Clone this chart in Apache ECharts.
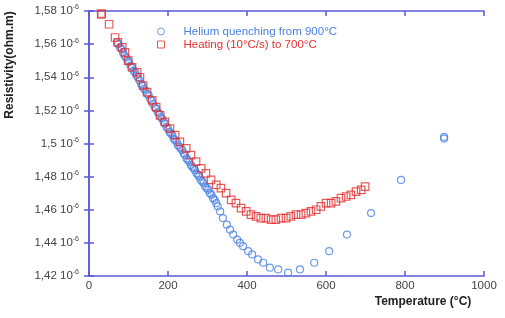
<!DOCTYPE html>
<html>
<head>
<meta charset="utf-8">
<script src="https://cdn.jsdelivr.net/npm/echarts@6/dist/echarts.min.js"></script>
<style>
  html, body { margin: 0; padding: 0; background: #fff; }
  #chart { width: 505px; height: 318px; }
</style>
</head>
<body>
<div id="chart"></div>
<script>
// [temperature °C, resistivity in 10^-6 ohm.m]
const heliumQuench = [
  [71,1.561],[74,1.560],[78,1.558],[82,1.557],[86,1.555],[90,1.553],[94,1.552],[98,1.550],
  [101,1.549],[105,1.547],[109,1.546],[113,1.544],[117,1.543],[120,1.541],[124,1.540],[128,1.538],
  [132,1.536],[135,1.535],[139,1.533],[143,1.532],[147,1.530],[151,1.529],[155,1.527],[158,1.526],
  [162,1.524],[166,1.522],[170,1.521],[174,1.519],[177,1.518],[181,1.516],[185,1.515],[189,1.513],
  [192,1.512],[196,1.510],[200,1.509],[204,1.507],[207,1.506],[211,1.505],[214,1.503],[218,1.502],
  [222,1.501],[225,1.499],[229,1.498],[232,1.497],[236,1.496],[240,1.494],[243,1.493],[247,1.491],
  [250,1.490],[254,1.489],[258,1.487],[261,1.486],[265,1.485],[268,1.484],[272,1.482],[276,1.481],
  [279,1.480],[283,1.478],[287,1.477],[290,1.476],[294,1.474],[298,1.473],[302,1.472],[306,1.470],
  [310,1.469],[314,1.467],[318,1.466],[322,1.464],[326,1.462],[332,1.459],[339,1.455],[349,1.451],
  [357,1.448],[365,1.445],[375,1.442],[382,1.440],[390,1.438],[403,1.435],[413,1.433],[428,1.430],
  [441,1.428],[458,1.425],[479,1.424],[504,1.422],[534,1.424],[570,1.428],[608,1.435],[653,1.445],
  [714,1.458],[790,1.478],[899,1.503],[899,1.504]
];
const heating = [
  [31,1.578],[32,1.5785],[51,1.572],[66,1.564],[73,1.561],[84,1.558],[91,1.555],[99,1.550],
  [109,1.546],[122,1.543],[129,1.540],[137,1.535],[147,1.531],[160,1.526],[170,1.522],[180,1.517],
  [192,1.513],[205,1.509],[218,1.505],[230,1.501],[246,1.497],[258,1.493],[271,1.489],[284,1.485],
  [296,1.482],[309,1.478],[322,1.475],[334,1.473],[347,1.470],[360,1.466],[372,1.464],[385,1.461],
  [398,1.459],[410,1.457],[423,1.456],[435,1.455],[448,1.455],[461,1.454],[473,1.454],[486,1.455],
  [499,1.455],[511,1.456],[524,1.457],[537,1.457],[549,1.458],[562,1.459],[575,1.460],[587,1.462],
  [600,1.464],[613,1.464],[625,1.465],[638,1.467],[651,1.468],[663,1.469],[676,1.471],[689,1.472],
  [699,1.474]
];
const seriesNames = ['Helium quenching from 900°C', 'Heating (10°C/s) to 700°C'];
const xMin = 0, xMax = 1000, xStep = 200;
const yMin = 1.42, yMax = 1.58, yStep = 0.02;
const yExponent = '-6';
const xTitle = 'Temperature (°C)';
const yTitle = 'Resistivity(ohm.m)';

const blue = '#4a82e6';
const red = '#e2312f';
const axisColor = '#5a5ad8';
const font = '"Liberation Sans", Arial, sans-serif';

const chart = echarts.init(document.getElementById('chart'));

const baseAxis = {
  axisLine: { show: true, lineStyle: { color: axisColor, width: 1.5 } },
  axisTick: { show: true, inside: true, length: 5, lineStyle: { color: axisColor, width: 1.5 } },
  splitLine: { show: false }
};

const option = {
  animation: false,
  backgroundColor: '#fff',
  textStyle: { fontFamily: font },
  grid: { left: 89, right: 21, top: 11, bottom: 42, containLabel: false },
  legend: {
    orient: 'vertical',
    left: 157,
    top: 25,
    padding: 0,
    itemGap: 0,
    itemWidth: 7,
    itemHeight: 7,
    data: [
      { name: seriesNames[0], textStyle: { color: blue } },
      { name: seriesNames[1], textStyle: { color: red } }
    ],
    itemStyle: { borderWidth: 1 },
    textStyle: { fontSize: 11.5, lineHeight: 13, fontFamily: font, padding: [0, 0, 0, 14] }
  },
  xAxis: [
    Object.assign({}, baseAxis, {
      type: 'value', min: xMin, max: xMax, interval: xStep, position: 'bottom',
      axisLabel: { color: '#444', fontSize: 11.5, margin: 4, fontFamily: font, formatter: function (v) { return String(v); } }
    }),
    Object.assign({}, baseAxis, {
      type: 'value', min: xMin, max: xMax, interval: xStep, position: 'top',
      axisLabel: { show: false }
    })
  ],
  yAxis: [
    Object.assign({}, baseAxis, {
      type: 'value', min: yMin, max: yMax, interval: yStep, position: 'left',
      axisLabel: {
        margin: 10,
        formatter: function (v) {
          const s = String(parseFloat(v.toFixed(2))).replace('.', ',');
          return '{a|' + s + ' 10}{b|' + yExponent + '}';
        },
        rich: {
          a: { color: '#444', fontSize: 11.5, fontFamily: font },
          b: { color: '#444', fontSize: 7, fontFamily: font, verticalAlign: 'top', lineHeight: 14 }
        }
      }
    }),
    Object.assign({}, baseAxis, {
      type: 'value', min: yMin, max: yMax, interval: yStep, position: 'right',
      axisLabel: { show: false }
    })
  ],
  graphic: [
    {
      type: 'text', x: 10, y: 65, rotation: Math.PI / 2,
      style: { text: yTitle, fill: '#222', font: 'bold 12px ' + font, textAlign: 'center', textVerticalAlign: 'middle' }
    },
    {
      type: 'text', x: 423, y: 302,
      style: { text: xTitle, fill: '#222', font: 'bold 12px ' + font, textAlign: 'center', textVerticalAlign: 'middle' }
    }
  ],
  series: [
    {
      name: seriesNames[0],
      type: 'scatter',
      symbol: 'circle',
      symbolSize: 7,
      itemStyle: { color: 'rgba(255,255,255,0)', borderColor: blue, borderWidth: 1.2 },
      data: heliumQuench
    },
    {
      name: seriesNames[1],
      type: 'scatter',
      symbol: 'rect',
      symbolSize: 7.5,
      itemStyle: { color: 'rgba(255,255,255,0)', borderColor: red, borderWidth: 1.2 },
      data: heating
    }
  ]
};

chart.setOption(option);
</script>
</body>
</html>
